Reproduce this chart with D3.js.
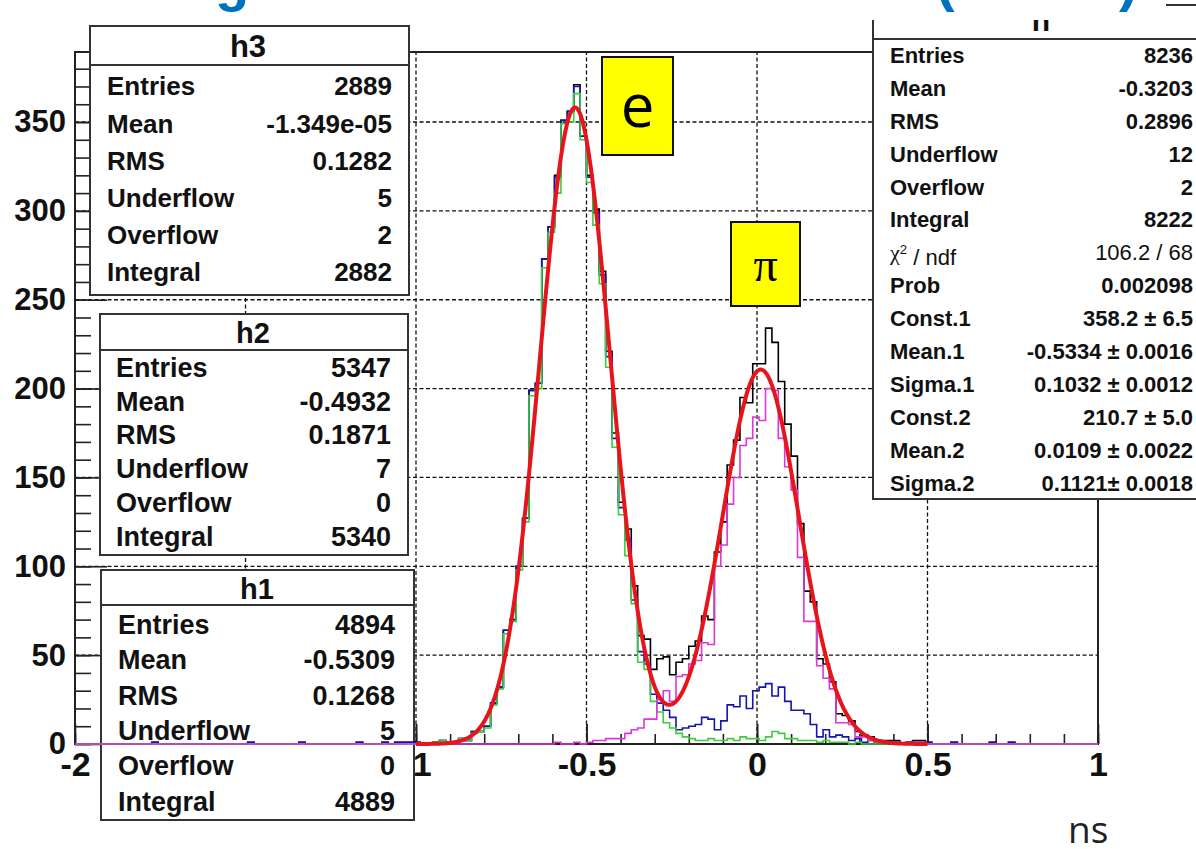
<!DOCTYPE html>
<meta charset="UTF-8">
<style>
  body { margin: 0; background: #fff; }
  svg { display: block; }
  .grid line { stroke: #111; stroke-width: 1.3px; stroke-dasharray: 4 2.5; }
  .axis text { font-family: "Liberation Sans", Arial, sans-serif; font-weight: bold; fill: #111; }
  .axis line { stroke: #222; stroke-width: 1.6px; }
  .stat rect { fill: #fff; stroke: #333; stroke-width: 2px; }
  .stat line { stroke: #333; stroke-width: 2px; }
  .stat text { font-family: "Liberation Sans", Arial, sans-serif; fill: #111; }
  .hist { fill: none; stroke-width: 1.6px; }
</style>
<body>
<script src="https://cdn.jsdelivr.net/npm/d3@7"></script>
<script>
  // binning of all histograms
  var xMin = -2, xMax = 1, nBins = 160;

  // h2 (blue), bin contents
  var h2 = [
    0, 0, 0, 0, 0, 0, 0, 0, 0, 0, 0, 0, 1, 0, 0, 0, 0, 0, 0, 0,
    0, 0, 0, 0, 0, 0, 0, 1, 0, 0, 0, 0, 0, 0, 0, 1, 0, 0, 0, 0,
    0, 0, 0, 0, 1, 0, 0, 0, 1, 0, 1, 1, 1, 1, 0, 0, 1, 2, 1, 1,
    3, 2, 7, 7, 10, 23, 32, 64, 70, 100, 127, 199, 203, 273, 291, 319, 351, 356, 370, 342,
    319, 299, 264, 218, 172, 133, 115, 81, 52, 45, 28, 23, 19, 15, 8, 9, 10, 11, 15, 14,
    8, 13, 22, 21, 27, 20, 30, 32, 34, 27, 32, 24, 19, 19, 17, 11, 4, 8, 4, 5,
    4, 2, 3, 1, 2, 1, 1, 1, 1, 0, 1, 1, 1, 1, 0, 0, 0, 1, 0, 0,
    0, 0, 0, 1, 0, 0, 1, 0, 0, 0, 0, 0, 0, 0, 0, 0, 0, 0, 0, 0
  ];

  // h1 (green)
  var h1 = [
    0, 0, 0, 0, 0, 0, 0, 0, 0, 0, 0, 0, 0, 0, 0, 0, 0, 0, 0, 0,
    0, 0, 0, 0, 0, 0, 0, 0, 0, 0, 0, 0, 0, 0, 0, 0, 0, 0, 0, 0,
    0, 0, 0, 0, 0, 0, 0, 0, 0, 0, 0, 0, 0, 0, 0, 0, 1, 2, 1, 1,
    3, 2, 6, 7, 9, 22, 31, 62, 69, 98, 125, 196, 200, 268, 288, 310, 349, 350, 366, 340,
    316, 292, 259, 212, 167, 129, 106, 79, 46, 42, 24, 18, 12, 9, 6, 4, 3, 2, 2, 3,
    2, 2, 3, 2, 4, 3, 3, 2, 4, 7, 6, 3, 3, 2, 2, 2, 1, 2, 1, 1,
    1, 0, 1, 0, 0, 0, 0, 0, 0, 0, 0, 0, 0, 0, 0, 0, 0, 0, 0, 0,
    0, 0, 0, 0, 0, 0, 0, 0, 0, 0, 0, 0, 0, 0, 0, 0, 0, 0, 0, 0
  ];

  // h3 (magenta)
  var h3 = [
    0, 0, 0, 0, 0, 0, 0, 0, 0, 0, 0, 0, 0, 0, 0, 0, 0, 0, 0, 0,
    0, 0, 0, 0, 0, 0, 0, 0, 0, 0, 0, 0, 0, 0, 0, 0, 0, 0, 0, 0,
    0, 0, 0, 0, 0, 0, 0, 0, 0, 0, 0, 0, 0, 0, 0, 0, 0, 0, 0, 0,
    0, 0, 0, 0, 0, 0, 0, 0, 0, 0, 0, 0, 0, 0, 0, 1, 0, 0, 1, 0,
    1, 2, 2, 3, 3, 3, 6, 8, 9, 14, 14, 25, 30, 24, 38, 39, 45, 47, 57, 56,
    100, 112, 135, 150, 168, 172, 184, 182, 200, 199, 172, 156, 143, 105, 69, 69, 44, 37, 31, 12,
    12, 11, 4, 4, 2, 1, 1, 1, 1, 0, 0, 1, 1, 0, 0, 0, 0, 0, 0, 0,
    0, 0, 0, 0, 0, 0, 0, 0, 0, 0, 0, 0, 0, 0, 0, 0, 0, 0, 0, 0
  ];

  // h = h2 + h3 (black), entries 5347 + 2889 = 8236
  var h = h2.map(function(v, i) { return v + h3[i]; });

  // double gaussian fit, values from the stat box
  var fitConst = [358.2, 210.7];
  var fitMean = [-0.5334, 0.0109];
  var fitSigma = [0.1032, 0.1121];
  var fitRange = [-1, 0.5];

  // axis ticks (the -1.5 label sits behind the h1 box, only its grid line shows)
  var xGrid = [-1.5, -1, -0.5, 0, 0.5];
  var xTickLabels = [-2, -1, -0.5, 0, 0.5, 1];
  var yTickLabels = [0, 50, 100, 150, 200, 250, 300, 350];

  // stat boxes
  var statLabels = ["Entries", "Mean", "RMS", "Underflow", "Overflow", "Integral"];
  var h3Stats = ["2889", "-1.349e-05", "0.1282", "5", "2", "2882"];
  var h2Stats = ["5347", "-0.4932", "0.1871", "7", "0", "5340"];
  var h1Stats = ["4894", "-0.5309", "0.1268", "5", "0", "4889"];
  var hLabels = ["Entries", "Mean", "RMS", "Underflow", "Overflow", "Integral", "chi2",
    "Prob", "Const.1", "Mean.1", "Sigma.1", "Const.2", "Mean.2", "Sigma.2"];
  var hStats = ["8236", "-0.3203", "0.2896", "12", "2", "8222", "106.2 / 68",
    "0.002098", "358.2 \u00b1 6.5", "-0.5334 \u00b1 0.0016", "0.1032 \u00b1 0.0012",
    "210.7 \u00b1 5.0", "0.0109 \u00b1 0.0022", "0.1121\u00b1 0.0018"];

  var width = 1196, height = 849;

  var svg = d3.select("body").append("svg")
    .attr("width", width)
    .attr("height", height);

  svg.append("rect").attr("width", width).attr("height", height).attr("fill", "#fff");

  var x = d3.scaleLinear().domain([xMin, xMax]).range([75, 1098]);
  var y = d3.scaleLinear().domain([0, 389.4]).range([744, 52]);

  // grid
  var grid = svg.append("g").attr("class", "grid");
  grid.selectAll(".gx")
    .data(xGrid)
    .enter().append("line")
    .attr("x1", function(d) { return x(d); })
    .attr("x2", function(d) { return x(d); })
    .attr("y1", y.range()[0]).attr("y2", y.range()[1]);
  grid.selectAll(".gy")
    .data(yTickLabels.filter(function(d) { return d > 0; }))
    .enter().append("line")
    .attr("y1", function(d) { return y(d); })
    .attr("y2", function(d) { return y(d); })
    .attr("x1", x.range()[0]).attr("x2", x.range()[1]);

  // axes, ticks point into the frame like ROOT
  var minorX = d3.range(-20, 11).map(function(i) { return i / 10; });
  var minorY = d3.range(0, 39).map(function(i) { return i * 10; });

  svg.append("g").attr("class", "axis")
    .attr("transform", "translate(0," + y(0) + ")")
    .call(d3.axisBottom(x).tickValues(minorX).tickSize(-10).tickFormat(""));
  svg.append("g").attr("class", "axis")
    .attr("transform", "translate(0," + y(0) + ")")
    .call(d3.axisBottom(x).tickValues(xGrid).tickSize(-20).tickFormat(""));
  var xMajor = svg.append("g").attr("class", "axis")
    .attr("transform", "translate(0," + y(0) + ")")
    .call(d3.axisBottom(x).tickValues(xTickLabels).tickSize(-20).tickPadding(8)
      .tickFormat(function(d) { return String(d); }));
  xMajor.selectAll("text").style("font-size", "34px");

  svg.append("g").attr("class", "axis")
    .attr("transform", "translate(" + x(xMin) + ",0)")
    .call(d3.axisLeft(y).tickValues(minorY).tickSize(-16).tickFormat(""));
  var yMajor = svg.append("g").attr("class", "axis")
    .attr("transform", "translate(" + x(xMin) + ",0)")
    .call(d3.axisLeft(y).tickValues(yTickLabels).tickSize(-32).tickPadding(9)
      .tickFormat(function(d) { return String(d); }));
  yMajor.selectAll("text").style("font-size", "31px");
  svg.selectAll(".axis .domain").remove();

  // frame
  svg.append("rect")
    .attr("x", x(xMin)).attr("y", y.range()[1])
    .attr("width", x(xMax) - x(xMin)).attr("height", y.range()[0] - y.range()[1])
    .attr("fill", "none").attr("stroke", "#222").attr("stroke-width", 2);

  // stat box helper
  function statBox(b, title, labels, values) {
    var g = svg.append("g").attr("class", "stat");
    g.append("rect").attr("x", b.x).attr("y", b.y).attr("width", b.w).attr("height", b.h);
    g.append("line").attr("x1", b.x).attr("x2", b.x + b.w).attr("y1", b.head).attr("y2", b.head);
    g.append("text")
      .attr("x", b.tx).attr("y", b.ty)
      .attr("text-anchor", "middle")
      .style("font-size", b.tsize + "px")
      .style("font-weight", "bold")
      .text(title);
    labels.forEach(function(lab, i) {
      var yy = b.row0 + i * b.step;
      var t = g.append("text")
        .attr("x", b.lx).attr("y", yy)
        .attr("dy", "0.36em")
        .style("font-size", b.size + "px")
        .style("font-weight", lab === "chi2" ? "normal" : "bold");
      if (lab === "chi2") {
        t.append("tspan").style("font-family", "'Liberation Serif', serif").text("\u03c7");
        t.append("tspan").attr("dy", "-0.5em").style("font-size", (b.size * 0.6) + "px").text("2");
        t.append("tspan").attr("dy", "0.5em").text(" / ndf");
      } else {
        t.text(lab);
      }
      g.append("text")
        .attr("x", b.vx).attr("y", yy)
        .attr("dy", "0.36em")
        .attr("text-anchor", "end")
        .style("font-size", b.size + "px")
        .style("font-weight", lab === "chi2" ? "normal" : "bold")
        .text(values[i]);
    });
  }

  statBox({ x: 90, y: 26, w: 319, h: 269, head: 65, tx: 248, ty: 57, tsize: 31,
    lx: 107, vx: 392, row0: 86, step: 37.2, size: 26 }, "h3", statLabels, h3Stats);
  statBox({ x: 100, y: 314, w: 308, h: 241, head: 350, tx: 253, ty: 343, tsize: 29,
    lx: 116, vx: 391, row0: 367, step: 33.8, size: 27 }, "h2", statLabels, h2Stats);
  statBox({ x: 101, y: 570, w: 313, h: 250, head: 605, tx: 257, ty: 599, tsize: 29,
    lx: 118, vx: 395, row0: 624, step: 35.4, size: 27 }, "h1", statLabels, h1Stats);
  statBox({ x: 873, y: 5, w: 340, h: 494, head: 39, tx: 1041, ty: 31, tsize: 30,
    lx: 890, vx: 1193, row0: 55, step: 32.9, size: 22 }, "h", hLabels, hStats);

  // histograms
  var edges = d3.range(nBins + 1).map(function(i) {
    return xMin + i * (xMax - xMin) / nBins;
  });
  var step = d3.line()
    .x(function(d) { return x(d[0]); })
    .y(function(d) { return y(d[1]); })
    .curve(d3.curveStepAfter);

  function histPath(counts) {
    var pts = counts.map(function(c, i) { return [edges[i], c]; });
    pts.push([xMax, counts[nBins - 1]]);
    return step(pts);
  }

  var series = [
    { counts: h, color: "#000" },
    { counts: h2, color: "#1414b4" },
    { counts: h1, color: "#3ccc3c" },
    { counts: h3, color: "#dc36dc" }
  ];
  svg.selectAll("path.hist")
    .data(series)
    .enter().append("path")
    .attr("class", "hist")
    .attr("stroke", function(d) { return d.color; })
    .attr("d", function(d) { return histPath(d.counts); });

  // fit curve
  function fitValue(t) {
    var s = 0;
    for (var i = 0; i < fitConst.length; i++) {
      var z = (t - fitMean[i]) / fitSigma[i];
      s += fitConst[i] * Math.exp(-0.5 * z * z);
    }
    return s;
  }
  var fitX = d3.range(fitRange[0], fitRange[1] + 1e-9, 0.0025);
  svg.append("path")
    .attr("fill", "none")
    .attr("stroke", "#e8141b")
    .attr("stroke-width", 4)
    .attr("stroke-linejoin", "round")
    .attr("d", d3.line()
      .x(function(d) { return x(d); })
      .y(function(d) { return y(fitValue(d)); })(fitX));

  // yellow particle labels
  var tags = [
    { x: 602, y: 57, w: 71, h: 98, text: "e", font: "'Open Sans', sans-serif", size: 60, ty: 127 },
    { x: 731, y: 222, w: 69, h: 84, text: "\u03c0", font: "'Liberation Serif', serif", size: 48, ty: 281 }
  ];
  tags.forEach(function(t) {
    svg.append("rect")
      .attr("x", t.x).attr("y", t.y).attr("width", t.w).attr("height", t.h)
      .attr("fill", "#ffff00").attr("stroke", "#111").attr("stroke-width", 2);
    svg.append("text")
      .attr("x", t.x + t.w / 2).attr("y", t.ty)
      .attr("text-anchor", "middle")
      .style("font-family", t.font)
      .style("font-size", t.size + "px")
      .text(t.text);
  });

  // unit label
  svg.append("text")
    .attr("x", 1068).attr("y", 843)
    .style("font-family", "'Open Sans', sans-serif")
    .style("font-size", "37px")
    .style("fill", "#222")
    .text("ns");

  // slide title band, only its bottom edge is in the picture
  svg.append("rect").attr("x", 0).attr("y", 0).attr("width", 1166).attr("height", 20).attr("fill", "#fff");
  [["g", 215], ["(", 936], [")", 1119]].forEach(function(f) {
    svg.append("text")
      .attr("x", f[1]).attr("y", 0)
      .style("font-family", "'Liberation Sans', Arial, sans-serif")
      .style("font-weight", "bold")
      .style("font-size", "56px")
      .style("fill", "#0070c0")
      .text(f[0]);
  });
</script>
</body>
